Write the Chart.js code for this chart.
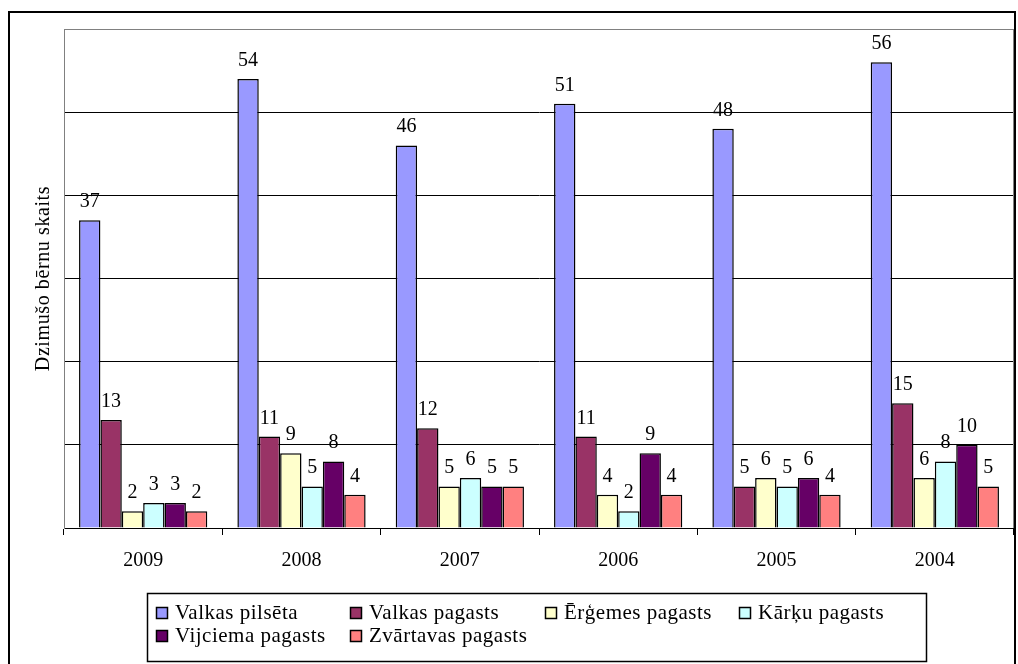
<!DOCTYPE html>
<html>
<head>
<meta charset="utf-8">
<script src="https://cdn.jsdelivr.net/npm/chart.js@4.4.0/dist/chart.umd.min.js"></script>
<style>
  body { margin: 0; background: #fff; }
</style>
</head>
<body>
<canvas id="myChart" width="1018" height="664"></canvas>
<script>
const years = ['2009', '2008', '2007', '2006', '2005', '2004'];

const valkasPilseta = [37, 54, 46, 51, 48, 56];
const valkasPagasts = [13, 11, 12, 11, 5, 15];
const ergemesPagasts = [2, 9, 5, 4, 6, 6];
const karkuPagasts = [3, 5, 6, 2, 5, 8];
const vijciemaPagasts = [3, 8, 5, 9, 6, 10];
const zvartavasPagasts = [2, 4, 5, 4, 4, 5];

const yTitle = 'Dzimušo bērnu skaits';
const serif = '"Liberation Serif", "Times New Roman", serif';

function series(label, data, color) {
    return {
        label: label,
        data: data,
        backgroundColor: color,
        borderColor: '#000',
        borderWidth: 1.5,
        categoryPercentage: 0.81,
        barPercentage: 1.0
    };
}

// value labels above bars
const valueLabels = {
    id: 'valueLabels',
    afterDatasetsDraw(chart) {
        const ctx = chart.ctx;
        ctx.save();
        ctx.font = '20px ' + serif;
        ctx.fillStyle = '#000';
        ctx.textAlign = 'center';
        ctx.textBaseline = 'alphabetic';
        chart.data.datasets.forEach((ds, i) => {
            chart.getDatasetMeta(i).data.forEach((bar, j) => {
                ctx.fillText(ds.data[j], bar.x, bar.y - 13);
            });
        });
        ctx.restore();
    }
};

// plot frame, outer border, y title and boxed legend
const decorations = {
    id: 'decorations',
    beforeDatasetsDraw(chart) {
        const a = chart.chartArea;
        const ctx = chart.ctx;
        ctx.save();
        ctx.strokeStyle = '#808080';
        ctx.lineWidth = 1;
        ctx.beginPath();
        ctx.moveTo(a.left, a.top + 0.5);
        ctx.lineTo(a.right - 0.5, a.top + 0.5);
        ctx.lineTo(a.right - 0.5, a.bottom);
        ctx.stroke();
        ctx.restore();
    },
    afterDraw(chart) {
        const ctx = chart.ctx;
        const a = chart.chartArea;
        ctx.save();

        // outer border
        ctx.strokeStyle = '#000';
        ctx.lineWidth = 2;
        ctx.strokeRect(9, 12, 1006, 670);

        // y title
        ctx.fillStyle = '#000';
        ctx.font = '20px ' + serif;
        ctx.letterSpacing = '0.6px';
        ctx.textAlign = 'center';
        ctx.textBaseline = 'middle';
        ctx.translate(44, (a.top + a.bottom) / 2);
        ctx.rotate(-Math.PI / 2);
        ctx.fillText(yTitle, 0, 0);
        ctx.setTransform(1, 0, 0, 1, 0, 0);

        // legend box
        ctx.lineWidth = 1.5;
        ctx.strokeRect(147.5, 593.5, 779, 68);
        const colX = [156, 350, 545, 739];
        const rowY = [619, 642];
        ctx.font = '21px ' + serif;
        ctx.letterSpacing = '0.5px';
        ctx.textAlign = 'left';
        ctx.textBaseline = 'alphabetic';
        chart.data.datasets.forEach((ds, i) => {
            const x = colX[i % 4];
            const y = rowY[Math.floor(i / 4)];
            ctx.fillStyle = ds.backgroundColor;
            ctx.fillRect(x, y - 12, 11, 11);
            ctx.lineWidth = 1.5;
            ctx.strokeStyle = '#000';
            ctx.strokeRect(x + 0.5, y - 11.5, 11, 11);
            ctx.fillStyle = '#000';
            ctx.fillText(ds.label, x + 19, y);
        });
        ctx.restore();
    }
};

const canvas = document.getElementById('myChart');
const ctx = canvas.getContext('2d');

new Chart(ctx, {
    type: 'bar',
    data: {
        labels: years,
        datasets: [
            series('Valkas pilsēta', valkasPilseta, '#9999FF'),
            series('Valkas pagasts', valkasPagasts, '#993366'),
            series('Ērģemes pagasts', ergemesPagasts, '#FFFFCC'),
            series('Kārķu pagasts', karkuPagasts, '#CCFFFF'),
            series('Vijciema pagasts', vijciemaPagasts, '#660066'),
            series('Zvārtavas pagasts', zvartavasPagasts, '#FF8080')
        ]
    },
    options: {
        responsive: false,
        animation: false,
        layout: {
            padding: { top: 29, left: 0, right: 4, bottom: 0 }
        },
        plugins: {
            legend: { display: false },
            tooltip: { enabled: false }
        },
        scales: {
            x: {
                afterFit: s => { s.height = 136; },
                grid: {
                    offset: true,
                    drawOnChartArea: false,
                    tickLength: 7,
                    color: '#000'
                },
                border: { color: '#000', width: 1 },
                ticks: {
                    color: '#000',
                    font: { family: serif, size: 20 },
                    padding: 14
                }
            },
            y: {
                min: 0,
                max: 60,
                afterFit: s => { s.width = 64; },
                ticks: { display: false, stepSize: 10 },
                grid: {
                    drawTicks: false,
                    color: c => (c.tick && c.tick.value === 60) ? '#808080' : '#000'
                },
                border: { color: '#808080', width: 1 }
            }
        }
    },
    plugins: [valueLabels, decorations]
});
</script>
</body>
</html>
